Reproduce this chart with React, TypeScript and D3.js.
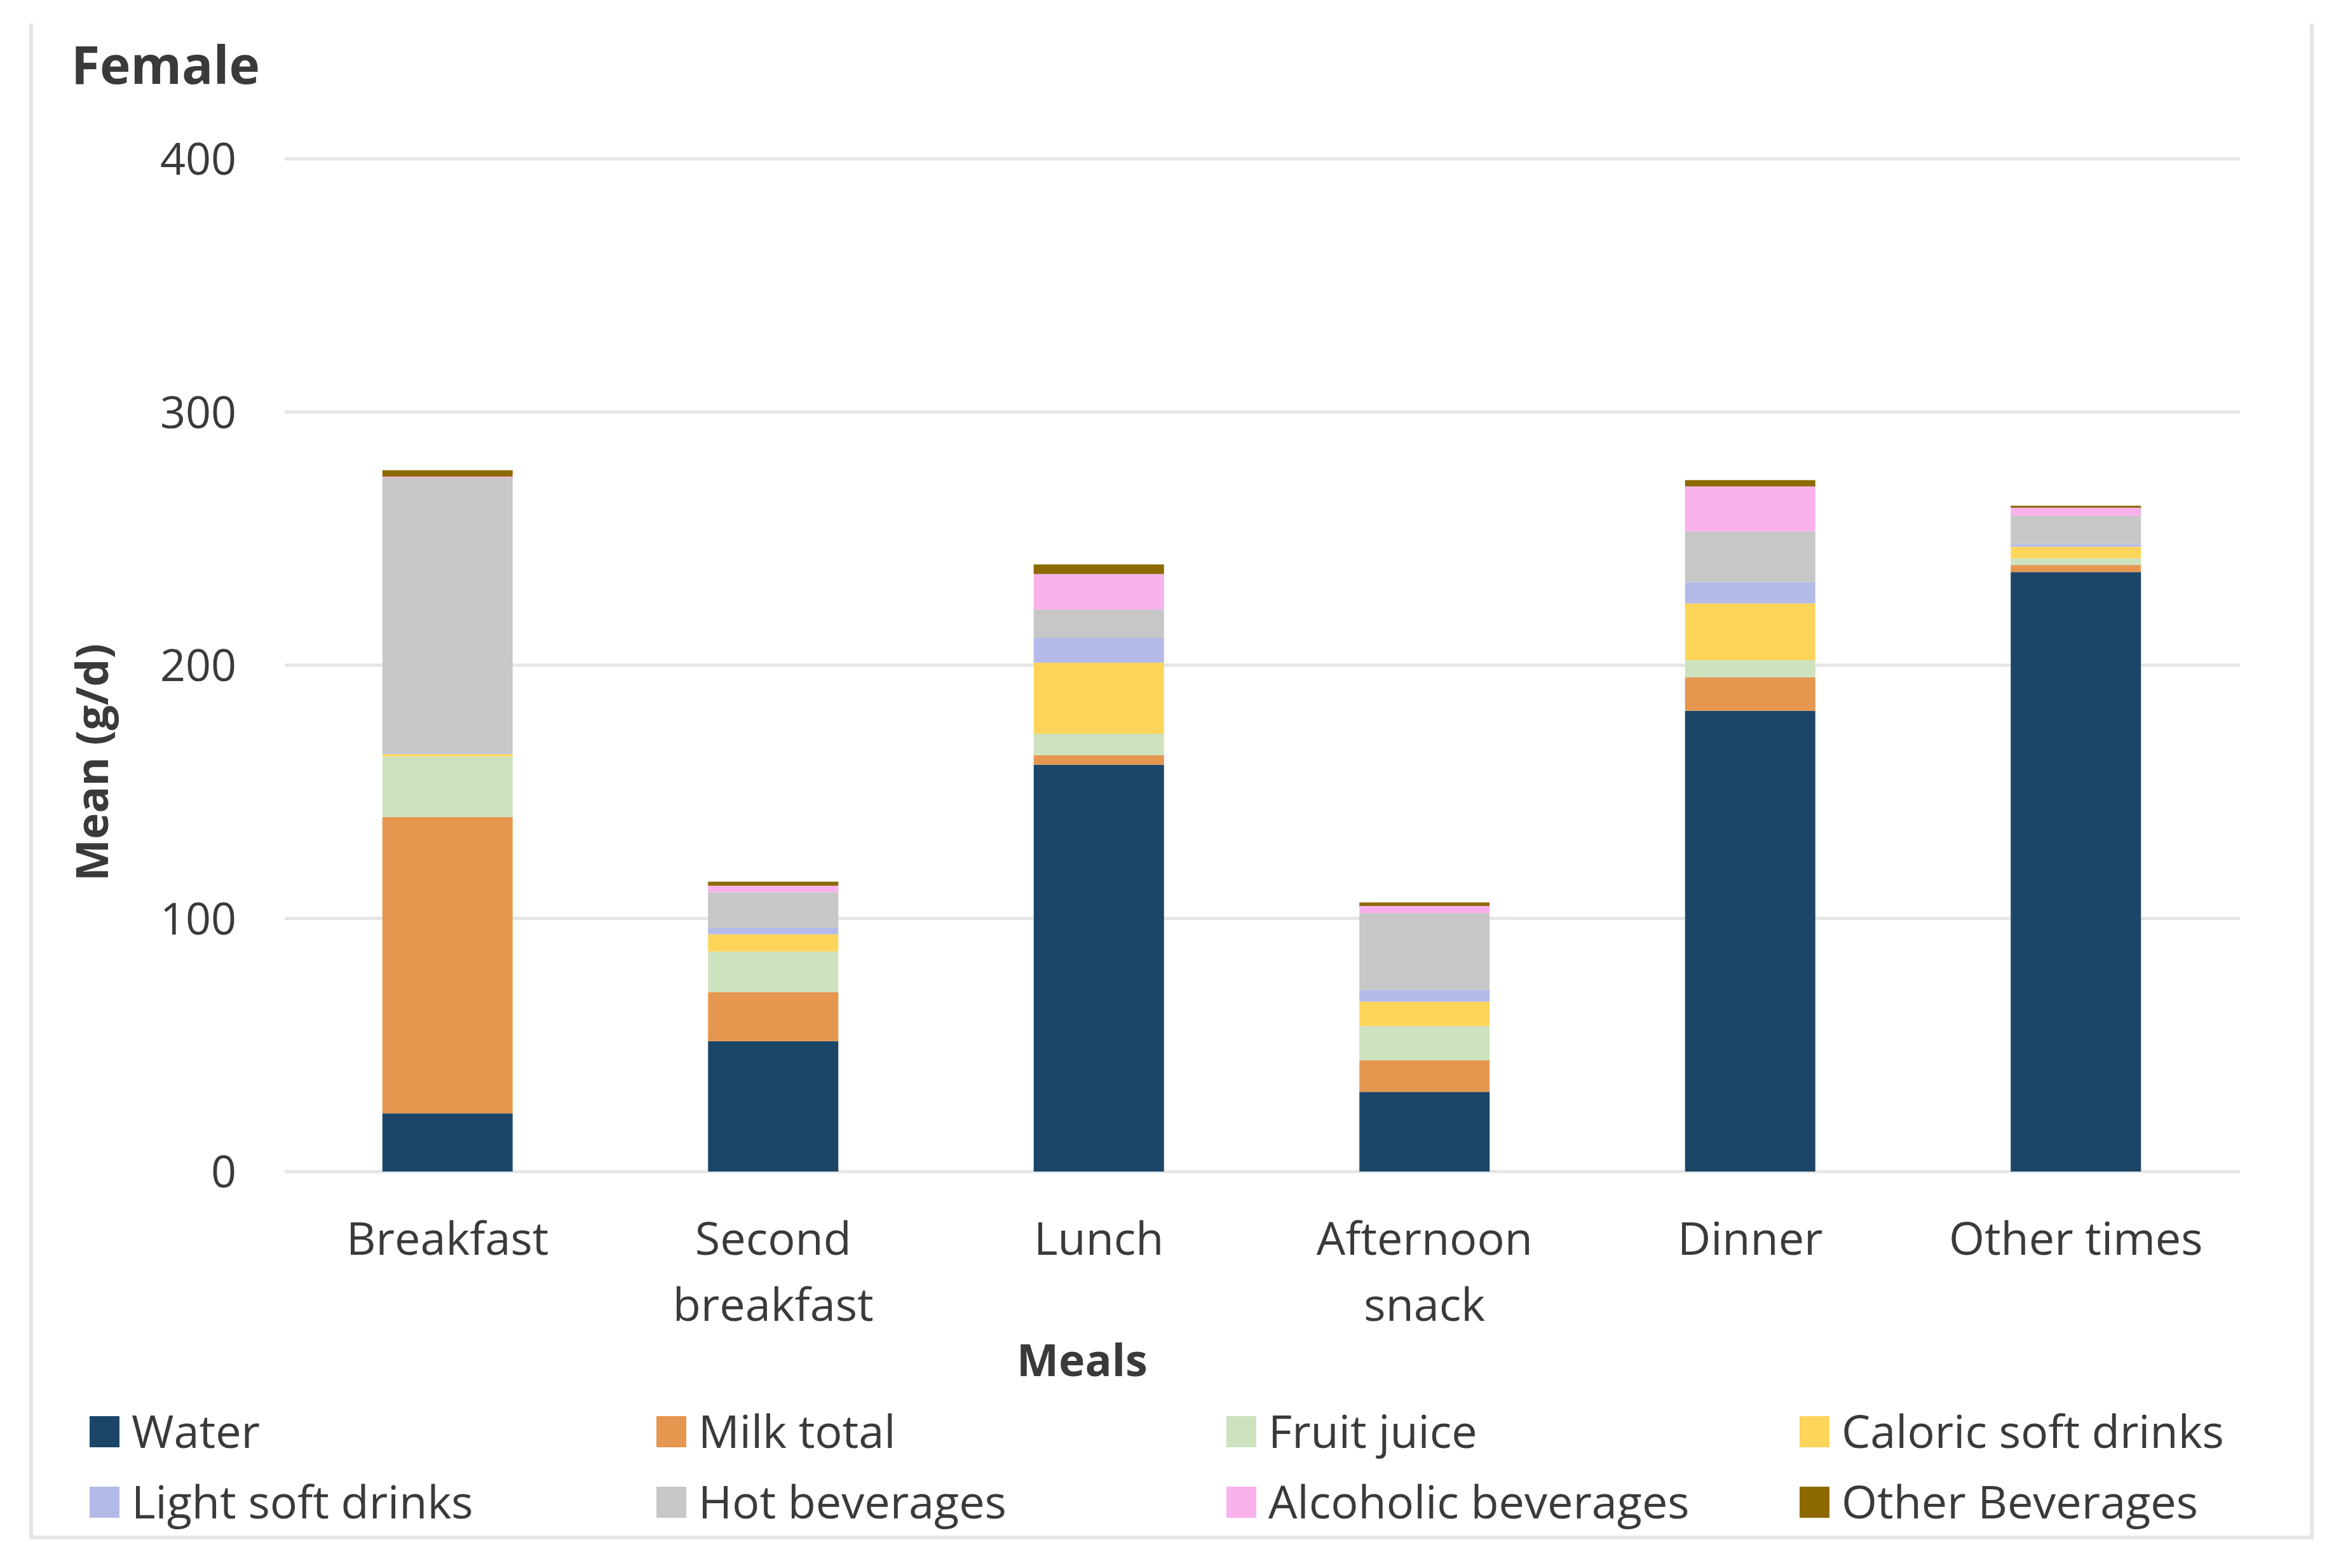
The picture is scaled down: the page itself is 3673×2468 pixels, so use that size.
import * as d3 from 'd3';

const meals = ['Breakfast', 'Second breakfast', 'Lunch', 'Afternoon snack', 'Dinner', 'Other times'];
const mealLines = [['Breakfast'], ['Second', 'breakfast'], ['Lunch'], ['Afternoon', 'snack'], ['Dinner'], ['Other times']];

const beverages = [
  'Water',
  'Milk total',
  'Fruit juice',
  'Caloric soft drinks',
  'Light soft drinks',
  'Hot beverages',
  'Alcoholic beverages',
  'Other Beverages',
];
const colors = ['#1C4668', '#E5964F', '#CDE3BF', '#FED55B', '#B3BAE8', '#C7C7C7', '#F9B1EC', '#8C6A00'];

// values per beverage, one per meal (g/d)
const water = [23, 51.5, 160.7, 31.5, 182, 236.8];
const milkTotal = [117, 19.4, 3.8, 12.4, 13.2, 2.8];
const fruitJuice = [24, 16, 8.4, 13.6, 6.8, 2.6];
const caloricSoft = [1, 6.8, 28.1, 9.6, 22.4, 4.6];
const lightSoft = [0.5, 2.6, 9.8, 4.6, 8.4, 1.0];
const hotBeverages = [108.5, 14, 11.2, 30.4, 20, 11.2];
const alcoholic = [0.5, 2.6, 14, 2.8, 17.8, 3.2];
const otherBeverages = [2.5, 1.6, 3.8, 1.4, 2.5, 0.8];

const series = [water, milkTotal, fruitJuice, caloricSoft, lightSoft, hotBeverages, alcoholic, otherBeverages];
const yTicks = [0, 100, 200, 300, 400];

const W = 3673;
const H = 2468;
const FONT = '"Open Sans", "Noto Sans", sans-serif';
const TEXT = '#3a3a3a';

export default function App() {
  const x = d3.scaleBand<string>().domain(meals).range([448, 3523]).paddingInner(0.6).paddingOuter(0.3);
  const y = d3.scaleLinear().domain([0, 400]).range([1844, 250]);

  const rows = meals.map((m, i) => {
    const r: Record<string, number | string> = { meal: m };
    beverages.forEach((b, j) => (r[b] = series[j][i]));
    return r;
  });
  const stacked = d3.stack<Record<string, number | string>>().keys(beverages)(rows as any);

  const legendCols = [141, 1033, 1930, 2832];
  const legendRows = [2279, 2390];

  return (
    <div style={{ position: 'absolute', left: 0, top: 0 }}>
      <svg width={W} height={H} style={{ display: 'block', background: '#fff' }} fontFamily={FONT}>
        <rect width={W} height={H} fill="#fff" />
        {/* chart frame */}
        <path d="M49,37 V2420 H3638 V37" fill="none" stroke="#E6E6E6" strokeWidth={6} />

        {/* gridlines */}
        {yTicks.map((t) => (
          <line key={t} x1={448} x2={3525} y1={y(t)} y2={y(t)} stroke="#E6E6E6" strokeWidth={5} />
        ))}

        {/* y tick labels */}
        {yTicks.map((t) => (
          <text key={'t' + t} x={372} y={y(t)} dy="0.36em" textAnchor="end" fontSize={70} fill={TEXT}>
            {t}
          </text>
        ))}

        {/* stacked bars */}
        {stacked.map((s, si) => (
          <g key={s.key} fill={colors[si]}>
            {s.map((d, i) => (
              <rect
                key={i}
                x={x(meals[i])}
                y={y(d[1])}
                width={x.bandwidth()}
                height={Math.max(0, y(d[0]) - y(d[1]))}
              />
            ))}
          </g>
        ))}

        {/* category labels */}
        {mealLines.map((lines, i) => (
          <text key={meals[i]} textAnchor="middle" fontSize={72} fill={TEXT}>
            {lines.map((l, k) => (
              <tspan key={k} x={(x(meals[i]) ?? 0) + x.bandwidth() / 2} y={1975 + k * 104}>
                {l}
              </tspan>
            ))}
          </text>
        ))}

        {/* axis titles */}
        <text x={1703} y={2166} textAnchor="middle" fontSize={70} fontWeight="bold" fill={TEXT}>
          Meals
        </text>
        <text
          transform="translate(170,1200) rotate(-90)"
          textAnchor="middle"
          fontSize={70}
          fontWeight="bold"
          fill={TEXT}
        >
          Mean (g/d)
        </text>

        {/* title */}
        <text x={112} y={132} fontSize={82} fontWeight="bold" fill={TEXT}>
          Female
        </text>

        {/* legend */}
        {beverages.map((b, i) => {
          const cx = legendCols[i % 4];
          const by = legendRows[Math.floor(i / 4)];
          return (
            <g key={b}>
              <rect x={cx} y={by - 50} width={47} height={49} fill={colors[i]} />
              <text x={cx + 66} y={by} fontSize={72} fill={TEXT}>
                {b}
              </text>
            </g>
          );
        })}
      </svg>
    </div>
  );
}
